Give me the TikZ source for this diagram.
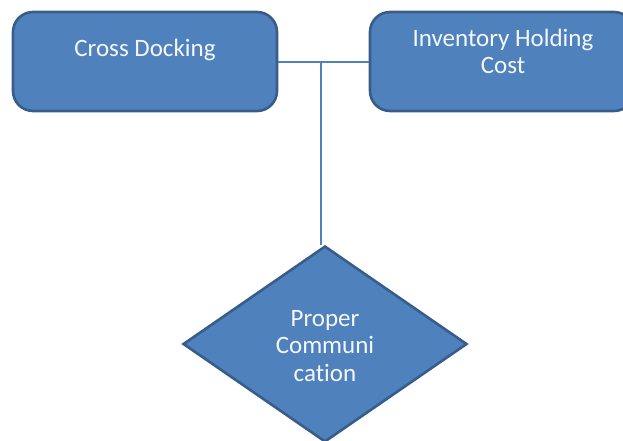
\documentclass[tikz,border=0pt]{standalone}
\usepackage{fontspec}
\setmainfont[Ligatures={NoCommon}]{Carlito}
\usetikzlibrary{shapes.geometric}
\definecolor{boxfill}{HTML}{4F81BD}
\definecolor{boxedge}{HTML}{385D8A}
\definecolor{linkcol}{HTML}{4F81BD}
\definecolor{txtcol}{HTML}{F4F7FC}
\tikzset{
  roundbox/.style={draw=boxedge, fill=boxfill, line width=2.6pt, rounded corners=20pt,
    minimum width=264pt, minimum height=99pt, inner sep=0pt},
  decision/.style={draw=boxedge, fill=boxfill, line width=2.6pt, diamond,
    minimum width=284pt, minimum height=196pt, inner sep=0pt},
  label/.style={text=txtcol, font=\fontsize{25}{27.5}\selectfont, align=center, inner sep=0pt},
  link/.style={draw=linkcol, line width=1.3pt}
}
\begin{document}
\begin{tikzpicture}[x=1pt,y=-1pt]
\useasboundingbox (0,0) rectangle (623,441);
\node[roundbox] (cd) at (145,61.5) {};
\node[roundbox] (ih) at (502,61.5) {};
\node[decision] (pc) at (325,344) {};
\node[label] (cdt) at (145,50) {Cross Docking};
\node[label] (iht) at (503,51.5) {Inventory Holding\\Cost};
\node[label] (pct) at (325,346) {Proper\\Communi\\cation};
\coordinate (j) at (321,62);
\draw[link] (cd.east |- j) -- (ih.west |- j);
\draw[link] (j) -- (pc.north -| j);
\end{tikzpicture}
\end{document}
